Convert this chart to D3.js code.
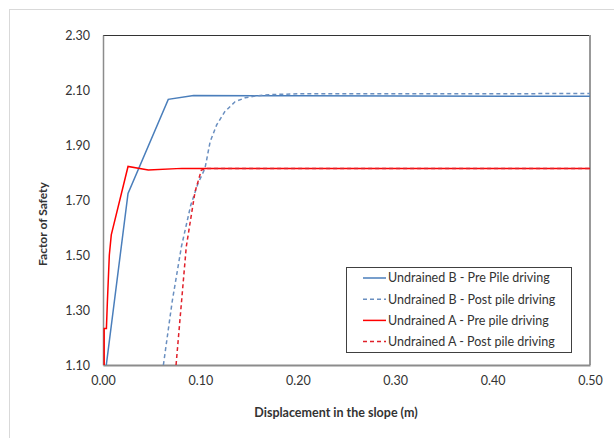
<!DOCTYPE html>
<html>
<head>
    <meta charset="utf-8">
    <title></title>
    <script src="https://d3js.org/d3.v7.min.js"></script>
    <style>
        html, body { margin: 0; padding: 0; background: white; }
        text { font-family: Lato, "Open Sans", sans-serif; fill: #333; }
    </style>
</head>
<body>
<div id="chart"></div>
<script>
    // x = displacement (m), y = factor of safety
    const preB = [[0.0034, 1.10], [0.0257, 1.724], [0.067, 2.066], [0.093, 2.080], [0.20, 2.079], [0.50, 2.077]];
    const postB = [[0.062, 1.10], [0.071, 1.33], [0.0805, 1.53], [0.090, 1.68], [0.0975, 1.76], [0.1047, 1.815],
        [0.110, 1.912], [0.1167, 1.973], [0.125, 2.021], [0.1355, 2.057], [0.146, 2.072], [0.156, 2.078],
        [0.17, 2.083], [0.20, 2.086], [0.50, 2.087]];
    const preA = [[0.0012, 1.10], [0.0012, 1.233], [0.0035, 1.233], [0.0045, 1.33], [0.0065, 1.50], [0.0085, 1.573],
        [0.0257, 1.822], [0.0465, 1.809], [0.081, 1.815], [0.50, 1.815]];
    const postA = [[0.075, 1.10], [0.0855, 1.53], [0.0945, 1.73], [0.101, 1.809], [0.107, 1.815], [0.50, 1.815]];

    const xTicks = [0, 0.1, 0.2, 0.3, 0.4, 0.5];
    const yTicks = [1.10, 1.30, 1.50, 1.70, 1.90, 2.10, 2.30];

    const seriesNames = ["Undrained B - Pre Pile driving", "Undrained B - Post pile driving",
        "Undrained A - Pre pile driving", "Undrained A - Post pile driving"];

    const series = [
        { name: seriesNames[0], data: preB, color: "#4a7ebb", dash: null, width: 1.5 },
        { name: seriesNames[1], data: postB, color: "#6a8fc0", dash: "4,3", width: 1.5 },
        { name: seriesNames[2], data: preA, color: "#ff0000", dash: null, width: 1.5 },
        { name: seriesNames[3], data: postA, color: "#e0202a", dash: "4,3", width: 1.5 },
    ];

    const W = 614, H = 438;
    const margins = { top: 35, right: 24, bottom: 73, left: 103 };
    const width = W - margins.left - margins.right;
    const height = H - margins.top - margins.bottom;

    const svg = d3.select("#chart").append("svg")
        .attr("width", W)
        .attr("height", H);

    // outer chart frame (only top and left edges are visible)
    svg.append("rect")
        .attr("x", 9.5).attr("y", 9.5)
        .attr("width", 700).attr("height", 600)
        .attr("fill", "white")
        .attr("stroke", "#d9d9d9");

    const g = svg.append("g")
        .attr("transform", `translate(${margins.left},${margins.top})`);

    const xScale = d3.scaleLinear().domain([0, 0.5]).range([0, width]);
    const yScale = d3.scaleLinear().domain([1.10, 2.30]).range([height, 0]);

    g.append("clipPath").attr("id", "clip")
        .append("rect").attr("width", width).attr("height", height);

    // plot border
    g.append("line").attr("x1", 0).attr("x2", width).attr("y1", 0.5).attr("y2", 0.5)
        .attr("stroke", "#333").attr("stroke-width", 1);
    g.append("line").attr("x1", width).attr("x2", width).attr("y1", 0).attr("y2", height)
        .attr("stroke", "#999").attr("stroke-width", 2);

    // axes
    const xAxis = g.append("g")
        .attr("transform", `translate(0,${height})`)
        .call(d3.axisBottom(xScale).tickValues(xTicks).tickFormat(d3.format(".2f")).tickSize(0).tickPadding(11));
    const yAxis = g.append("g")
        .call(d3.axisLeft(yScale).tickValues(yTicks).tickFormat(d3.format(".2f")).tickSize(0).tickPadding(13));

    [xAxis, yAxis].forEach(ax => {
        ax.select(".domain").attr("stroke", "#8c8c8c").attr("stroke-width", 2);
        ax.selectAll("text").attr("font-size", "12.5px").attr("fill", "#404040")
            .attr("font-family", "Lato, sans-serif");
    });
    yAxis.select(".domain").attr("stroke-width", 1.5);

    // lines
    const line = d3.line()
        .x(d => xScale(d[0]))
        .y(d => yScale(d[1]));

    series.forEach(s => {
        g.append("path")
            .datum(s.data)
            .attr("clip-path", "url(#clip)")
            .attr("fill", "none")
            .attr("stroke", s.color)
            .attr("stroke-width", s.width)
            .attr("stroke-dasharray", s.dash)
            .attr("d", line);
    });

    // axis titles
    svg.append("text")
        .attr("x", 336)
        .attr("y", 417)
        .attr("text-anchor", "middle")
        .attr("font-size", "12.5px")
        .attr("font-weight", "bold")
        .attr("fill", "#222")
        .text("Displacement in the slope (m)");

    svg.append("text")
        .attr("transform", "translate(47,224) rotate(-90)")
        .attr("text-anchor", "middle")
        .attr("font-size", "12px")
        .attr("font-weight", "bold")
        .attr("fill", "#222")
        .text("Factor of Safety");

    // legend
    const legend = svg.append("g").attr("transform", "translate(346,267)");
    legend.append("rect")
        .attr("x", 0.5).attr("y", 0.5)
        .attr("width", 225).attr("height", 85)
        .attr("fill", "white")
        .attr("stroke", "#404040");

    series.forEach((s, i) => {
        const row = legend.append("g").attr("transform", `translate(0,${11 + i * 21.2})`);
        row.append("line")
            .attr("x1", 17).attr("x2", 40)
            .attr("stroke", s.color)
            .attr("stroke-width", s.width)
            .attr("stroke-dasharray", s.dash);
        row.append("text")
            .attr("x", 42)
            .attr("y", 0)
            .attr("dy", "0.35em")
            .attr("font-size", "12.5px")
            .attr("fill", "#222")
            .text(s.name);
    });
</script>
</body>
</html>
